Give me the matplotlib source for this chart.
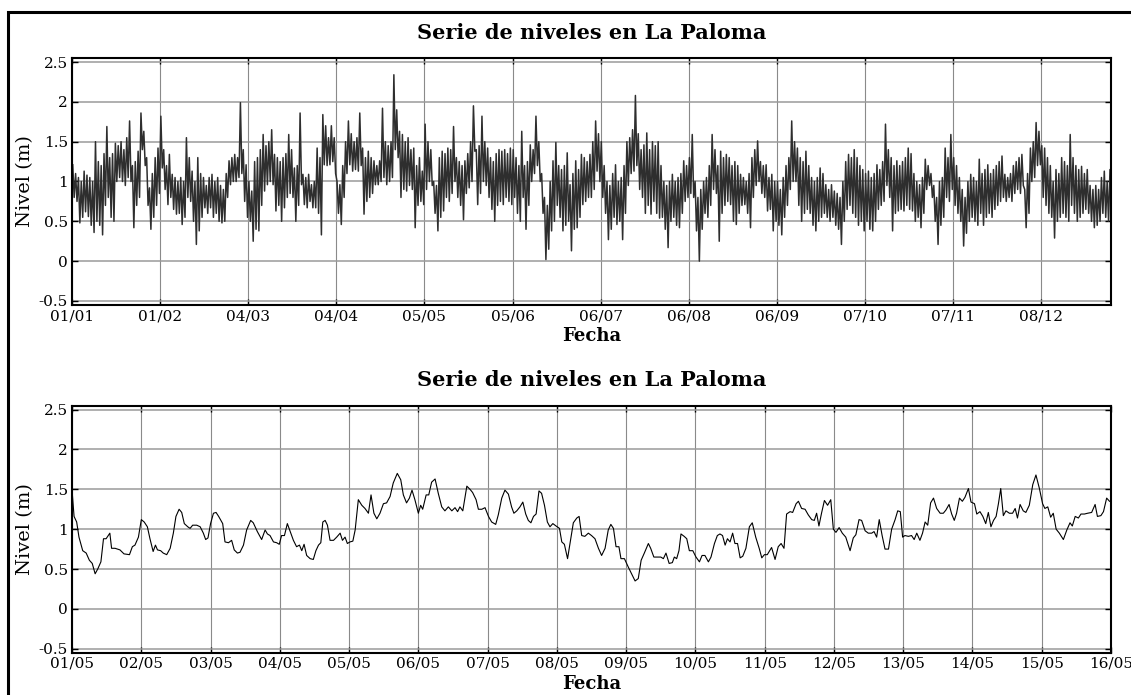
import numpy as np
import matplotlib
matplotlib.use("Agg")
from matplotlib import pyplot as plt
from matplotlib.patches import Rectangle

# serie anual: maximos y minimos diarios (dia 0 = 01/01)
picos = [1.21,1.10,1.05,1.00,1.13,1.08,1.05,1.00,1.50,1.25,
         1.20,1.35,1.69,1.30,1.35,1.48,1.45,1.50,1.40,1.55,
         1.76,1.20,1.25,1.38,1.86,1.63,1.30,0.92,1.10,1.30,
         1.42,1.82,1.40,1.20,1.34,1.09,1.05,1.00,1.05,1.00,
         1.55,1.30,1.13,1.00,1.30,1.10,1.05,0.95,1.05,1.09,
         1.00,1.05,0.95,0.90,1.10,1.26,1.30,1.34,1.30,1.99,
         1.40,1.21,1.00,0.88,1.25,1.30,1.40,1.59,1.45,1.50,
         1.65,1.34,1.30,1.25,1.30,1.35,1.59,1.40,1.17,1.20,
         1.86,1.09,1.05,1.09,0.96,1.00,1.42,1.30,1.84,1.70,
         1.55,1.70,1.55,1.00,0.96,1.20,1.50,1.76,1.60,1.50,
         1.55,1.86,1.42,1.30,1.38,1.30,1.26,1.20,1.26,1.92,
         1.50,1.45,1.50,2.34,1.90,1.63,1.59,1.50,1.55,1.40,
         1.42,1.20,1.30,1.13,1.72,1.50,1.40,1.00,0.95,1.30,
         1.38,1.35,1.42,1.40,1.69,1.30,1.25,1.20,1.26,1.35,
         1.50,1.95,1.40,1.45,1.82,1.50,1.42,1.30,1.25,1.35,
         1.40,1.38,1.40,1.35,1.42,1.40,1.30,1.20,1.63,1.20,
         1.25,1.46,1.40,1.82,1.50,1.10,0.80,0.70,1.00,1.26,
         1.49,1.20,1.15,1.20,1.36,0.96,1.10,1.26,1.15,1.34,
         1.30,1.25,1.34,1.50,1.76,1.60,1.50,1.20,1.00,0.95,
         1.10,1.21,1.00,1.05,1.20,1.50,1.55,1.65,2.08,1.60,
         1.40,1.46,1.61,1.40,1.50,1.45,1.50,1.20,1.00,0.95,
         1.00,1.09,1.00,1.05,1.10,1.26,1.20,1.30,1.59,1.00,
         0.80,0.90,1.00,1.05,1.20,1.59,1.40,1.20,1.38,1.30,
         1.34,1.30,1.20,1.25,1.20,1.09,1.05,1.00,1.10,1.30,
         1.40,1.51,1.25,1.20,1.21,1.05,1.09,1.00,1.00,0.90,
         1.05,1.20,1.30,1.76,1.50,1.42,1.30,1.25,1.38,1.20,
         1.05,1.00,1.05,1.17,1.10,0.96,0.90,0.96,0.88,0.85,
         0.80,1.00,1.25,1.34,1.30,1.40,1.30,1.20,1.15,1.10,
         1.13,1.05,1.10,1.21,1.15,1.25,1.72,1.40,1.30,1.20,
         1.26,1.20,1.25,1.30,1.42,1.35,1.10,1.00,0.96,1.05,
         1.28,1.20,1.10,0.95,0.80,1.00,1.05,1.42,1.30,1.59,
         1.30,1.20,1.05,0.90,0.80,1.00,1.09,1.05,1.00,1.28,
         1.10,1.15,1.21,1.10,1.15,1.20,1.25,1.32,1.09,1.05,
         1.10,1.20,1.25,1.30,1.34,0.90,1.10,1.42,1.50,1.74,
         1.63,1.45,1.42,1.30,1.20,1.00,1.15,1.10,1.30,1.25,
         1.20,1.59,1.30,1.20,1.15,1.19,1.10,1.15,0.95,0.90,
         0.95,0.90,1.05,1.13,1.00,1.15]
valles = [0.80,0.75,0.48,0.55,0.62,0.56,0.45,0.36,0.50,0.45,
          0.33,0.70,0.80,0.55,0.50,1.00,1.05,1.00,0.95,1.05,
          1.00,0.42,0.70,0.80,1.40,1.20,0.70,0.40,0.55,0.70,
          0.85,1.17,0.90,0.71,0.80,0.65,0.59,0.60,0.46,0.55,
          0.80,0.75,0.50,0.21,0.38,0.55,0.67,0.60,0.67,0.55,
          0.60,0.50,0.48,0.50,0.80,0.96,1.00,1.00,1.05,1.10,
          0.75,0.55,0.50,0.25,0.40,0.38,0.70,0.88,0.96,1.00,
          0.96,0.63,0.70,0.50,0.67,0.80,0.85,0.80,0.50,0.70,
          0.96,0.71,0.67,0.75,0.67,0.67,0.60,0.33,1.21,1.20,
          1.21,1.25,1.10,0.60,0.46,0.80,1.10,1.21,1.13,1.15,
          1.13,1.20,0.59,0.75,0.80,0.85,0.96,0.96,1.00,1.05,
          0.96,1.00,1.05,1.40,1.30,0.80,0.90,0.88,0.95,0.90,
          0.42,0.70,0.75,0.71,0.90,1.00,0.95,0.60,0.38,0.55,
          0.63,0.80,0.75,0.85,1.00,0.80,0.70,0.52,0.85,0.92,
          1.00,1.38,0.71,0.85,1.00,0.95,0.80,0.65,0.50,0.70,
          0.75,0.71,0.80,0.75,0.71,0.80,0.60,0.50,0.80,0.40,
          0.70,1.00,1.10,1.20,1.00,0.60,0.02,0.15,0.38,0.50,
          0.70,0.55,0.38,0.45,0.50,0.13,0.40,0.42,0.55,0.71,
          0.75,0.80,0.80,0.90,1.13,1.00,0.80,0.60,0.27,0.40,
          0.55,0.46,0.50,0.27,0.60,0.95,1.10,1.13,1.20,0.90,
          0.80,0.60,0.70,0.59,0.75,0.60,0.54,0.55,0.40,0.17,
          0.50,0.55,0.45,0.42,0.60,0.75,0.80,0.85,0.80,0.38,
          0.00,0.40,0.60,0.55,0.70,0.90,0.85,0.25,0.60,0.70,
          0.75,0.71,0.50,0.46,0.60,0.70,0.71,0.60,0.42,0.80,
          0.95,1.00,0.85,0.80,0.63,0.65,0.38,0.50,0.45,0.33,
          0.55,0.70,0.90,1.00,1.00,0.70,0.50,0.60,0.65,0.60,
          0.45,0.38,0.50,0.55,0.60,0.55,0.50,0.55,0.45,0.40,
          0.21,0.50,0.65,0.70,0.60,0.55,0.45,0.50,0.38,0.50,
          0.40,0.38,0.50,0.65,0.70,0.75,0.95,0.80,0.38,0.60,
          0.63,0.65,0.63,0.70,0.65,0.63,0.50,0.55,0.42,0.60,
          0.90,0.95,0.80,0.50,0.21,0.45,0.55,0.80,0.75,0.90,
          0.70,0.60,0.50,0.19,0.35,0.50,0.55,0.50,0.45,0.60,
          0.45,0.55,0.60,0.55,0.65,0.70,0.75,0.80,0.75,0.80,
          0.75,0.85,0.90,0.85,0.95,0.42,0.60,1.00,1.05,1.20,
          1.21,0.80,0.70,0.60,0.55,0.29,0.50,0.55,0.60,0.55,
          0.50,0.70,0.60,0.50,0.55,0.60,0.65,0.60,0.50,0.42,
          0.45,0.50,0.60,0.55,0.50,0.60]
etiq_anual = ["01/01","01/02","04/03","04/04","05/05","05/06",
              "06/07","06/08","06/09","07/10","07/11","08/12"]

# mayo: horas desde 01/05 00:00 y nivel (m)
horas = [0.0,0.7,1.6,2.4,3.7,4.9,6.0,7.0,8.0,8.9,10.0,10.9,11.8,13.1,13.7,14.9,16.6,18.0,19.9,20.9,
         21.8,23.0,24.0,25.0,26.1,27.0,28.1,28.9,29.6,30.7,31.6,32.8,34.0,35.1,36.0,37.1,38.0,38.9,40.1,40.9,
         41.8,43.2,44.4,45.5,46.3,47.1,48.0,49.0,49.9,50.8,52.2,53.0,54.2,55.3,56.2,57.3,58.2,59.4,60.5,61.9,
         62.8,64.2,65.7,66.9,67.7,68.6,69.8,70.9,71.8,72.6,73.6,74.6,75.8,76.7,77.8,78.8,79.6,80.4,81.3,82.5,
         83.6,84.5,85.4,86.2,86.9,87.7,88.5,89.4,90.6,91.7,92.9,93.7,94.6,95.4,96.3,97.3,98.1,99.2,100.4,101.5,
         102.7,103.6,104.6,105.6,106.7,107.9,109.0,110.2,111.3,112.7,113.9,114.8,115.9,116.9,117.8,118.8,120.0,120.8,121.5,122.7,
         123.6,124.6,125.8,126.9,128.1,129.2,130.4,131.6,132.7,133.6,134.4,135.4,136.2,136.8,137.9,138.8,140.0,140.8,142.0,143.1,
         144.3,145.4,146.8,147.7,148.9,150.0,151.2,152.3,153.1,154.1,155.2,156.2,157.2,158.1,159.0,159.9,160.8,161.8,162.7,163.7,
         164.7,165.6,166.6,167.7,168.9,169.7,170.6,171.7,172.8,173.7,174.9,175.7,176.6,177.7,178.9,180.0,181.2,182.4,183.5,184.7,
         185.8,186.7,187.6,188.5,189.5,190.2,191.4,192.8,193.9,195.1,196.2,197.2,198.3,199.7,200.5,201.6,202.8,204.0,204.9,205.8,
         206.9,208.0,208.7,209.5,210.3,211.0,212.1,213.0,213.9,215.1,216.2,217.4,218.3,219.3,220.5,221.4,222.6,223.6,224.5,225.4,
         226.3,227.1,228.0,228.9,229.7,230.6,231.5,232.4,233.5,234.7,235.7,236.9,238.1,239.0,239.9,240.9,242.4,243.6,244.7,245.7,
         246.7,247.6,248.8,249.7,250.9,251.7,252.8,254.0,255.1,256.3,257.2,258.0,258.8,259.7,260.7,261.8,262.9,263.8,264.7,265.8,
         266.9,268.1,269.6,270.7,271.6,272.7,273.6,274.8,275.9,277.1,277.9,278.8,279.7,280.7,281.7,282.9,284.0,285.2,286.1,287.0,
         287.8,288.6,289.8,290.9,291.8,292.7,293.8,294.7,295.6,296.5,297.5,298.5,299.6,300.8,301.9,302.8,303.9,304.8,305.7,306.5,
         307.5,308.5,309.4,310.6,311.5,312.7,313.5,314.6,315.6,316.6,317.5,318.4,319.3,320.2,321.0,321.8,322.7,323.6,324.8,325.9,
         326.8,327.6,328.5,329.6,330.5,331.7,332.9,334.0,335.2,336.3,337.1,338.1,339.1,340.0,341.0,342.1,343.5,344.7,345.8,346.6,
         347.6,348.7,349.6,350.8,351.9,353.3,354.5,355.3,356.5,357.4,358.5,359.5]
nivel_mayo = [1.49,1.16,1.09,0.90,0.73,0.70,0.61,0.57,0.44,0.50,0.59,0.88,0.88,0.95,0.76,0.76,0.74,0.69,0.68,0.78,
              0.80,0.90,1.12,1.09,1.03,0.88,0.72,0.80,0.74,0.73,0.70,0.68,0.76,0.95,1.16,1.25,1.21,1.07,1.03,1.01,
              1.05,1.05,1.03,0.95,0.87,0.89,1.07,1.20,1.21,1.16,1.07,0.84,0.83,0.86,0.74,0.70,0.71,0.80,0.99,1.11,
              1.08,0.97,0.87,0.99,0.94,0.92,0.84,0.83,0.81,0.92,0.92,1.07,0.95,0.86,0.78,0.80,0.73,0.81,0.67,0.63,
              0.62,0.73,0.80,0.83,1.09,1.11,1.05,0.86,0.86,0.90,0.95,0.86,0.90,0.82,0.84,0.85,0.99,1.37,1.30,1.26,
              1.20,1.43,1.20,1.13,1.20,1.32,1.33,1.41,1.58,1.70,1.62,1.43,1.33,1.39,1.49,1.37,1.20,1.30,1.25,1.43,
              1.43,1.59,1.63,1.45,1.28,1.23,1.28,1.23,1.27,1.22,1.28,1.23,1.41,1.54,1.50,1.46,1.37,1.25,1.25,1.27,
              1.16,1.09,1.06,1.18,1.39,1.49,1.44,1.28,1.20,1.23,1.28,1.34,1.19,1.11,1.08,1.16,1.19,1.48,1.45,1.30,
              1.09,1.03,1.07,1.04,1.01,0.84,0.81,0.63,0.88,1.08,1.14,1.16,0.92,0.91,0.95,0.92,0.88,0.76,0.67,0.76,
              0.99,1.06,1.01,0.78,0.78,0.63,0.63,0.52,0.44,0.35,0.38,0.61,0.70,0.82,0.76,0.65,0.65,0.65,0.63,0.70,
              0.57,0.58,0.65,0.63,0.73,0.94,0.91,0.88,0.73,0.73,0.65,0.59,0.67,0.67,0.59,0.65,0.82,0.92,0.94,0.92,
              0.80,0.88,0.84,0.95,0.82,0.82,0.64,0.66,0.76,1.03,1.08,0.90,0.76,0.64,0.68,0.68,0.77,0.62,0.78,0.82,
              0.76,1.19,1.22,1.21,1.32,1.35,1.26,1.25,1.18,1.12,1.11,1.20,1.04,1.20,1.36,1.30,1.37,1.00,0.96,1.02,
              0.95,0.90,0.73,0.89,0.93,1.12,1.11,0.98,0.95,0.95,0.97,0.90,1.12,0.92,0.75,0.75,1.00,1.12,1.23,1.22,
              0.90,0.92,0.91,0.92,0.87,0.95,0.86,0.95,1.09,1.05,1.33,1.39,1.26,1.20,1.20,1.24,1.31,1.19,1.11,1.20,
              1.39,1.35,1.40,1.51,1.34,1.32,1.19,1.22,1.16,1.07,1.21,1.03,1.11,1.16,1.32,1.51,1.17,1.23,1.20,1.20,
              1.26,1.14,1.31,1.23,1.21,1.30,1.56,1.68,1.51,1.32,1.26,1.28,1.15,1.20,1.00,0.95,0.87,0.99,1.08,1.04,
              1.16,1.14,1.19,1.19,1.20,1.21,1.31,1.16,1.17,1.22,1.39,1.35]
etiq_mayo = ["%02d/05" % d for d in range(1, 17)]

y_ticks = [-0.5, 0, 0.5, 1, 1.5, 2, 2.5]
y_etiq = ["-0.5", "0", "0.5", "1", "1.5", "2", "2.5"]

plt.rcParams['font.family'] = ['DejaVu Serif']

fig = plt.figure(figsize=(11.31, 6.95), dpi=100)
# marco exterior
fig.patches.append(Rectangle((0.0071, -0.05), 1.2, 1.0327, transform=fig.transFigure,
                             fill=False, edgecolor='black', linewidth=2.2))

ax1 = fig.add_axes([0.0637, 0.5612, 0.9186, 0.3553])
ax2 = fig.add_axes([0.0637, 0.0609, 0.9186, 0.3554])

dia = np.arange(len(picos))
t_anual = np.column_stack([dia + 0.25, dia + 0.75]).ravel()
v_anual = np.column_stack([picos, valles]).ravel()
ax1.plot(t_anual, v_anual, color='#2e2e2e', linewidth=1.1)
ax1.set_xlim(0, 365.6)
ax1.set_xticks(np.arange(len(etiq_anual)) * 31)
ax1.set_xticklabels(etiq_anual)

ax2.plot(horas, nivel_mayo, color='black', linewidth=0.8)
ax2.set_xlim(0, 360)
ax2.set_xticks(np.arange(len(etiq_mayo)) * 24)
ax2.set_xticklabels(etiq_mayo)

for ax in (ax1, ax2):
    ax.set_ylim(-0.55, 2.55)
    ax.set_yticks(y_ticks)
    ax.set_yticklabels(y_etiq)
    ax.xaxis.grid(True, color='#8a8a8a', linewidth=0.8)
    ax.yaxis.grid(True, color='#9a9a9a', linewidth=1.1)
    ax.set_axisbelow(True)
    ax.tick_params(direction='in', length=4, width=1, top=True, right=True,
                   labelsize=11, pad=3)
    for s in ax.spines.values():
        s.set_linewidth(1.5)
    ax.set_title("Serie de niveles en La Paloma", fontsize=15, fontweight='bold', pad=14)
    ax.set_xlabel("Fecha", fontsize=13, fontweight='bold', labelpad=3)
    ax.set_ylabel("Nivel (m)", fontsize=14, labelpad=3)

fig.savefig("out.png", dpi=100)
